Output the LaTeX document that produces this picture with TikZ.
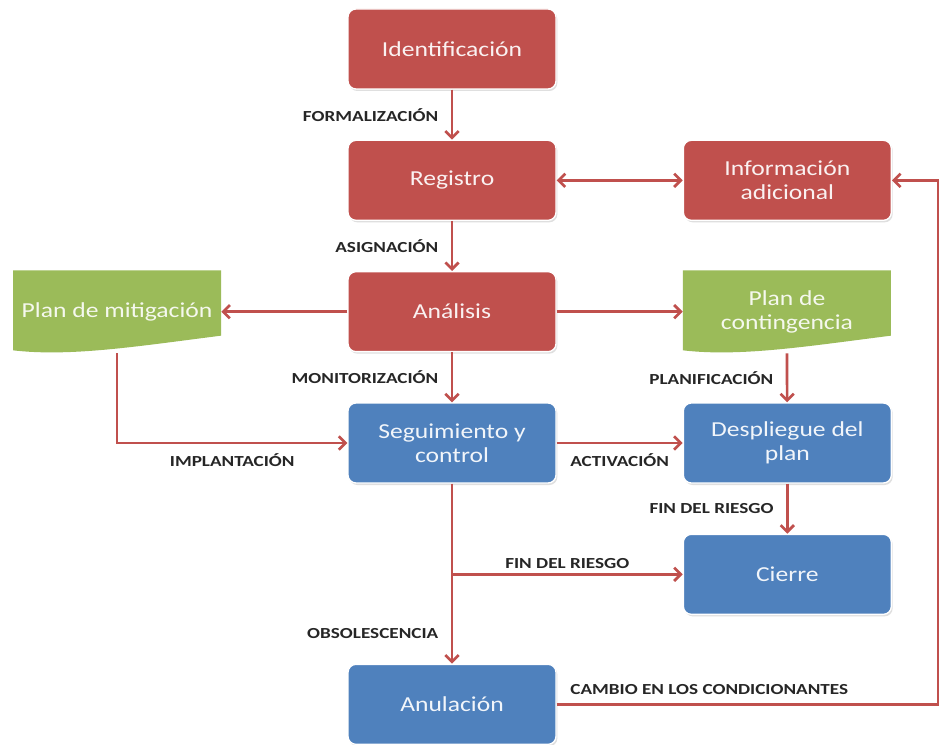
\documentclass[tikz,border=0pt]{standalone}
\usepackage{fontspec}
\setmainfont{Carlito}
\newfontfamily\boxfont[FakeStretch=1.2]{Carlito}
\newfontfamily\lblfont[FakeStretch=1.25]{Carlito}
\usepackage{xcolor}
\usetikzlibrary{arrows.meta,positioning,shadows}
\definecolor{boxred}{HTML}{C0504D}
\definecolor{boxblue}{HTML}{4F81BD}
\definecolor{boxgreen}{HTML}{9BBB59}
\definecolor{arrred}{HTML}{C0504D}

\begin{document}
\begin{tikzpicture}[x=0.75pt, y=-0.75pt, node distance=37.5pt and 94.5pt, box/.style={rounded corners=6pt, draw=white, line width=1pt, minimum width=156pt, minimum height=60pt, align=center, text=white!92!boxred, font=\boxfont\fontsize{16}{18}\selectfont, drop shadow={opacity=0.25, shadow xshift=1pt, shadow yshift=-1.5pt}}, redbox/.style={box, fill=boxred}, bluebox/.style={box, fill=boxblue, text=white!92!boxblue}, docbox/.style={minimum width=156pt, minimum height=62pt, align=center, text=white!90!boxgreen, font=\boxfont\fontsize{16}{18}\selectfont, path picture={\fill[boxgreen] (path picture bounding box.north west) -- (path picture bounding box.north east) -- ([yshift=13pt]path picture bounding box.south east) .. controls ([xshift=15pt,yshift=5pt]path picture bounding box.south) and ([xshift=-35pt,yshift=-3pt]path picture bounding box.south) .. ([yshift=2pt]path picture bounding box.south west) -- cycle;}}, lbl/.style={font=\lblfont\bfseries\fontsize{11.5}{13}\selectfont, text=black!85}, lleft/.style={lbl, left, xshift=-6pt}, lbelow/.style={lbl, below, yshift=-4pt}, arr/.style={-{Straight Barb[length=5pt,width=10pt]}, line width=2pt, draw=arrred}, dblarr/.style={arr, {Straight Barb[length=5pt,width=10pt]}-{Straight Barb[length=5pt,width=10pt]}}]
\path[use as bounding box, fill=white] (0,0) rectangle (939,745);
\node[redbox] (ident) at (452,49) {Identificación};
\node[redbox, below=of ident] (registro) {Registro};
\node[redbox, right=of registro] (info) {Información\\adicional};
\node[redbox, below=of registro] (analisis) {Análisis};
\node[docbox, left=of analisis] (mitig) {Plan de mitigación};
\node[docbox, right=of analisis] (conting) {Plan de\\contingencia};
\node[bluebox, below=of analisis] (seguim) {Seguimiento y\\control};
\node[bluebox, right=of seguim] (despl) {Despliegue del\\plan};
\node[bluebox, below=of despl] (cierre) {Cierre};
\node[bluebox, below=135pt of seguim] (anul) {Anulación};
\coordinate (edge) at (938,0);
\coordinate (branch) at (seguim.south |- cierre.west);
\draw[arr] (ident) -- node[lleft]{FORMALIZACIÓN} (registro);
\draw[dblarr] (registro) -- (info);
\draw[arr] (registro) -- node[lleft]{ASIGNACIÓN} (analisis);
\draw[arr] (analisis) -- (mitig);
\draw[arr] (analisis) -- (conting);
\draw[arr] (analisis) -- node[lleft]{MONITORIZACIÓN} (seguim);
\draw[arr] (mitig.south) |- node[lbelow, pos=0.75]{IMPLANTACIÓN} (seguim.west);
\draw[arr] (conting.south) -- node[lleft]{PLANIFICACIÓN} (despl);
\draw[arr] (seguim) -- node[lbelow, pos=0.5]{ACTIVACIÓN} (despl);
\draw[arr] (despl) -- node[lleft]{FIN DEL RIESGO} (cierre);
\draw[arr] (seguim) -- node[lleft, pos=0.83]{OBSOLESCENCIA} (anul);
\draw[arr] (branch) -- node[lbl, above]{FIN DEL RIESGO} (cierre);
\draw[arr] (anul.east) -- node[lbl, above right, pos=0, xshift=6pt, yshift=3pt]{CAMBIO EN LOS CONDICIONANTES} (anul.east -| edge) -- (info.east -| edge) -- (info.east);
\end{tikzpicture}
\end{document}
